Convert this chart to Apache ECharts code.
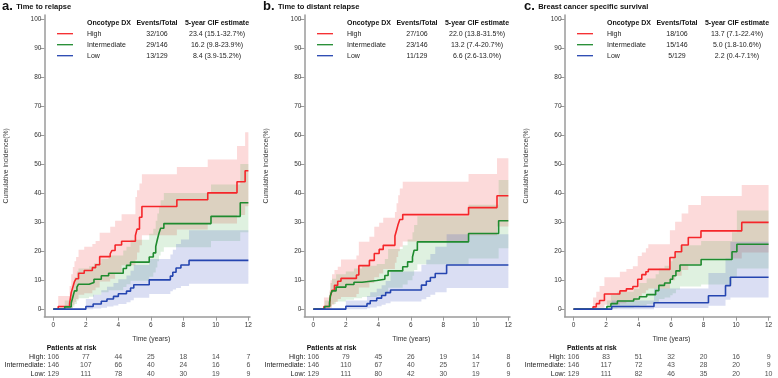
<!DOCTYPE html>
<html><head><meta charset="utf-8">
<script src="https://cdn.jsdelivr.net/npm/echarts@6/dist/echarts.min.js"></script>
<style>html,body{margin:0;padding:0;background:#fff}#c{width:778px;height:378px}</style>
</head><body><div id="c"></div>
<script>
// ---------- axes / labels ----------
const xTicks = [0, 2, 4, 6, 8, 10, 12];
const yTicks = [0, 10, 20, 30, 40, 50, 60, 70, 80, 90, 100];
const groupNames = ['High', 'Intermediate', 'Low'];
const panelLetters = ['a.', 'b.', 'c.'];
const panelTitles = ['Time to relapse', 'Time to distant relapse', 'Breast cancer specific survival'];
const tableHeader = ['Oncotype DX', 'Events/Total', '5-year CIF estimate'];

// ---------- legend tables ----------
const eventsA = ['32/106', '29/146', '13/129'];
const cifA = ['23.4 (15.1-32.7%)', '16.2 (9.8-23.9%)', '8.4 (3.9-15.2%)'];
const eventsB = ['27/106', '23/146', '11/129'];
const cifB = ['22.0 (13.8-31.5%)', '13.2 (7.4-20.7%)', '6.6 (2.6-13.0%)'];
const eventsC = ['18/106', '15/146', '5/129'];
const cifC = ['13.7 (7.1-22.4%)', '5.0 (1.8-10.6%)', '2.2 (0.4-7.1%)'];

// ---------- patients at risk ----------
const riskA_High = [106, 77, 44, 25, 18, 14, 7];
const riskA_Int = [146, 107, 66, 40, 24, 16, 6];
const riskA_Low = [129, 111, 78, 40, 30, 19, 9];
const riskB_High = [106, 79, 45, 26, 19, 14, 8];
const riskB_Int = [146, 110, 67, 40, 25, 17, 6];
const riskB_Low = [129, 111, 80, 42, 30, 19, 9];
const riskC_High = [106, 83, 51, 32, 20, 16, 9];
const riskC_Int = [146, 117, 72, 43, 28, 20, 9];
const riskC_Low = [129, 111, 82, 46, 35, 20, 10];

// ---------- cumulative incidence steps [time, value%] ----------
const relapseHigh = [[0,0],[0.3,0.9],[1.0,2.0],[1.05,3.8],[1.1,5.7],[1.2,7.6],[1.3,9.5],[1.4,10.5],[1.55,12.4],[1.9,13.3],[2.4,14.3],[2.6,15.3],[2.85,18.1],[3.5,19.1],[3.6,20.2],[3.8,22.1],[4.2,23.4],[5.05,25.4],[5.15,27.6],[5.3,31.7],[5.45,35.4],[7.6,37.7],[9.5,40.1],[11.3,43.9],[11.8,47.7],[12,47.7]];
const relapseInt = [[0,0],[0.7,0.8],[1.1,2.1],[1.2,4.2],[1.3,6.3],[1.45,7.6],[1.55,8.6],[2.2,9.2],[2.5,10.3],[2.95,11.5],[3.4,12.4],[4.3,14.0],[4.5,15.1],[4.75,16.2],[5.9,18.0],[6.15,19.4],[6.3,21.6],[6.4,24.0],[6.5,26.2],[6.6,27.9],[6.8,29.5],[9.7,32.0],[11.5,36.7],[12,36.7]];
const relapseLow = [[0,0],[2.0,0.9],[2.45,1.8],[2.95,2.7],[3.3,3.5],[3.7,4.4],[4.0,5.3],[4.5,6.2],[4.75,7.3],[4.95,8.4],[5.9,10.1],[7.2,11.4],[7.35,12.7],[7.55,14.2],[7.85,15.2],[8.35,16.8],[12,16.8]];

const distantHigh = [[0,0],[0.65,0.9],[1.0,2.0],[1.05,4.5],[1.15,6.5],[1.3,8.2],[1.5,9.6],[1.7,10.6],[2.65,11.8],[2.8,15.0],[3.45,16.8],[3.75,19.2],[4.05,20.6],[4.3,22.0],[5.02,25.2],[5.12,27.2],[5.22,29.3],[5.32,30.9],[5.5,32.6],[9.55,35.0],[11.3,39.1],[12,39.1]];
const distantInt = [[0,0],[0.7,0.9],[1.0,2.4],[1.05,4.7],[1.15,6.3],[1.4,7.6],[2.0,8.5],[2.5,9.3],[3.0,9.9],[3.9,10.3],[4.4,11.6],[4.6,13.2],[5.5,14.6],[5.8,16.3],[6.1,18.0],[6.2,20.3],[6.4,23.2],[9.55,26.1],[11.4,30.5],[12,30.5]];
const distantLow = [[0,0],[2.0,1.0],[3.3,1.9],[3.5,2.9],[3.9,3.8],[4.2,4.7],[4.45,5.7],[4.75,6.6],[6.65,8.3],[6.95,9.6],[7.2,10.9],[7.5,12.3],[8.2,15.2],[12,15.2]];

const bcssHigh = [[0,0],[1.2,0.8],[1.4,1.9],[1.6,3.0],[1.9,5.2],[2.85,6.3],[3.25,7.0],[3.65,7.8],[3.95,10.3],[4.2,11.9],[4.45,12.9],[4.6,13.7],[5.93,17.8],[6.25,19.8],[6.65,22.1],[7.06,24.7],[7.84,27.0],[10.35,29.9],[12,29.9]];
const bcssInt = [[0,0],[2.05,0.9],[2.3,1.9],[2.7,2.8],[3.7,3.5],[4.05,4.3],[4.5,5.0],[5.05,6.4],[5.25,8.2],[5.6,9.0],[5.95,10.3],[6.1,11.5],[6.3,13.2],[6.55,15.2],[7.85,17.1],[9.75,19.8],[10.05,22.4],[12,22.4]];
const bcssLow = [[0,0],[2.35,0.9],[4.95,2.2],[8.3,4.6],[9.35,8.1],[9.65,11.0],[12,11.0]];

// ---------- confidence bands [time, lower%, upper%] ----------
const relapseHighCI = [[0.3,0,4.5],[1.0,0,8],[1.1,0.3,12],[1.2,1.5,14.5],[1.3,2.5,16.5],[1.4,3.5,18],[1.55,5,20.5],[1.9,5.5,21.5],[2.4,6.5,22.5],[2.6,7.5,23.5],[2.85,9.5,26.3],[3.5,10.5,28.4],[3.8,12.5,30.5],[4.2,15.1,32.7],[5.05,17,38.7],[5.15,19.5,41],[5.3,22,43.3],[5.45,25.5,46.5],[7.6,27.5,49],[9.5,29.5,51.6],[11.3,32.5,56.2],[11.8,35.5,61]];
const relapseIntCI = [[0.7,0,3],[1.1,0.2,6],[1.2,0.8,9],[1.3,1.8,11],[1.45,3,13],[1.55,3.8,14],[2.2,4.3,14.8],[2.5,5,15.8],[2.95,5.8,17.3],[3.4,6.5,18.5],[4.3,7.6,20.2],[4.5,8.6,21.5],[4.75,9.8,23.9],[5.9,11.2,26],[6.15,12.6,27.7],[6.3,14.4,30.5],[6.4,16.5,33],[6.5,18.5,35.5],[6.6,19.8,37.5],[6.8,21.3,40],[9.7,23.5,43],[11.5,26.5,50]];
const relapseLowCI = [[2.0,0,3.5],[2.45,0.2,5],[2.95,0.5,6.5],[3.3,0.9,7.7],[3.7,1.3,9],[4.0,1.8,10.3],[4.5,2.4,11.6],[4.75,3.1,13.2],[4.95,3.9,15.2],[5.9,5.2,17.3],[7.2,6.2,18.8],[7.35,6.8,20.5],[7.55,7.3,22.5],[7.85,8,24],[8.35,8.8,27.2]];

const distantHighCI = [[0.65,0,4],[1.0,0,6.5],[1.05,0.5,10],[1.15,1.5,12],[1.3,2.5,13.5],[1.5,3.5,14.6],[1.7,4.2,17.1],[2.65,5.2,18.5],[2.8,7.5,23.2],[3.45,9,25],[3.75,11,28.4],[4.05,12.3,29.8],[4.3,13.8,31.5],[5.02,16,33.5],[5.12,18,36.5],[5.22,20,39.3],[5.32,21.5,41.6],[5.5,23.3,43.9],[9.55,25.5,46.6],[11.3,28.5,52]];
const distantIntCI = [[0.7,0,3],[1.0,0.2,6],[1.05,1,9],[1.15,1.8,10.5],[1.4,2.6,12],[2.0,3.2,13],[2.5,3.8,14],[3.0,4.2,15],[3.9,4.5,15.6],[4.4,5.5,17.3],[4.6,7.4,20.7],[5.5,8.5,22],[5.8,10,24],[6.1,11.5,26.5],[6.2,13.5,29],[6.4,15.5,32],[9.55,17.5,36],[11.4,21,44.5]];
const distantLowCI = [[2.0,0,3],[3.3,0.3,4.5],[3.5,0.6,5.8],[3.9,1.0,7],[4.2,1.5,8.2],[4.45,2.0,9.7],[4.75,2.6,13],[6.65,3.4,15.3],[6.95,4.2,17],[7.2,5.0,19],[7.5,5.8,21.5],[8.2,7.3,25.8]];

const bcssHighCI = [[1.2,0,4],[1.4,0.1,6],[1.6,0.5,8],[1.9,1.5,11],[2.85,2.0,12.9],[3.25,2.5,13.8],[3.65,3.0,14.8],[3.95,4.5,18.3],[4.2,5.5,19.5],[4.45,6.5,21],[4.6,7.1,22.4],[5.93,10,27.2],[6.25,11.5,30.1],[6.65,13.5,33],[7.06,15.5,35.9],[7.84,17.5,39],[10.35,19.5,42.8]];
const bcssIntCI = [[2.05,0,3],[2.3,0.2,5],[2.7,0.5,6],[3.7,0.8,7],[4.05,1.3,9],[4.5,1.8,10.6],[5.05,2.5,12],[5.25,3.5,14],[5.6,4,15],[5.95,4.8,16.5],[6.1,5.5,18],[6.3,6.8,20],[6.55,7.8,22],[7.85,8.5,23.5],[9.75,11,26.5],[10.05,14,34]];
const bcssLowCI = [[2.35,0,3],[4.95,0.4,7.1],[8.3,1.2,12.5],[9.35,3.2,17.5],[9.65,4.0,23.2]];

// ---------- assemble ----------
const lineColors = ['#f5262a', '#1f8b2f', '#2545b0'];
const bandColors = ['rgba(240,60,60,0.19)', 'rgba(40,160,50,0.15)', 'rgba(60,80,190,0.19)'];
const FONT = 'Liberation Sans, Arial, sans-serif';

const panels = [
  { est: [relapseHigh, relapseInt, relapseLow], ci: [relapseHighCI, relapseIntCI, relapseLowCI], events: eventsA, cif: cifA, risk: [riskA_High, riskA_Int, riskA_Low] },
  { est: [distantHigh, distantInt, distantLow], ci: [distantHighCI, distantIntCI, distantLowCI], events: eventsB, cif: cifB, risk: [riskB_High, riskB_Int, riskB_Low] },
  { est: [bcssHigh, bcssInt, bcssLow], ci: [bcssHighCI, bcssIntCI, bcssLowCI], events: eventsC, cif: cifC, risk: [riskC_High, riskC_Int, riskC_Low] }
];

const plotLeft = [44.4, 304.4, 564.6];
const plotWidth = 205.6;
const tableDx = [0, 260, 520];
const titleX = [2, 263, 524];
const X_MIN = -0.55, X_MAX = 12.1, Y_MIN = -2.6, Y_MAX = 101.4;
const T_END = xTicks[xTicks.length - 1];

const grid = [], xAxis = [], yAxis = [], series = [], graphic = [];
const axisGray = '#9a9a9a';

panels.forEach((p, i) => {
  const pi = 2 * i, ri = 2 * i + 1;
  grid.push({ left: plotLeft[i], top: 15, width: plotWidth, height: 301.7 });
  xAxis.push({
    type: 'value', gridIndex: pi, min: X_MIN, max: X_MAX,
    axisLine: { show: true, onZero: false, lineStyle: { color: axisGray, width: 1.5 } },
    axisTick: { show: true, customValues: xTicks, length: 4, lineStyle: { color: axisGray, width: 1 } },
    axisLabel: { customValues: xTicks, fontSize: 6.5, color: '#333', margin: 5, fontFamily: FONT },
    splitLine: { show: false },
    name: 'Time (years)', nameLocation: 'middle', nameGap: 19,
    nameTextStyle: { fontSize: 6.8, color: '#333', fontFamily: FONT, padding: [0, 0, 0, 8] }
  });
  yAxis.push({
    type: 'value', gridIndex: pi, min: Y_MIN, max: Y_MAX,
    axisLine: { show: true, onZero: false, lineStyle: { color: axisGray, width: 1.5 } },
    axisTick: { show: true, customValues: yTicks, length: 4, lineStyle: { color: axisGray, width: 1 } },
    axisLabel: { customValues: yTicks, fontSize: 6.5, color: '#333', margin: 3, fontFamily: FONT },
    splitLine: { show: false },
    name: 'Cumulative incidence(%)', nameLocation: 'middle', nameGap: 35, nameRotate: 90,
    nameTextStyle: { fontSize: 6.8, color: '#333', fontFamily: FONT }
  });

  // bands
  p.ci.forEach((ci, g) => {
    series.push({
      type: 'custom', xAxisIndex: pi, yAxisIndex: pi, z: 1, silent: true, data: [[0, 0]],
      renderItem: (params, api) => {
        const up = [], lo = [];
        for (let k = 0; k < ci.length; k++) {
          const t0 = ci[k][0], t1 = k + 1 < ci.length ? ci[k + 1][0] : T_END;
          up.push(api.coord([t0, ci[k][2]]), api.coord([t1, ci[k][2]]));
          lo.push(api.coord([t0, ci[k][1]]), api.coord([t1, ci[k][1]]));
        }
        return { type: 'polygon', shape: { points: up.concat(lo.reverse()) }, style: { fill: bandColors[g] } };
      }
    });
  });
  // lines
  p.est.forEach((d, g) => {
    series.push({
      type: 'line', xAxisIndex: pi, yAxisIndex: pi, z: 3, step: 'end', data: d,
      showSymbol: false, silent: true, animation: false,
      lineStyle: { color: lineColors[g], width: 1.6 }
    });
  });

  // risk table grid
  grid.push({ left: plotLeft[i], top: 352.3, width: plotWidth, height: 28.2 });
  xAxis.push({ type: 'value', gridIndex: ri, min: X_MIN, max: X_MAX, show: false });
  yAxis.push({
    type: 'category', gridIndex: ri, data: groupNames, inverse: true,
    axisLine: { show: false }, axisTick: { show: false }, splitLine: { show: false },
    axisLabel: { interval: 0, formatter: '{value}:', fontSize: 7, color: '#222', margin: -1, fontFamily: FONT }
  });
  groupNames.forEach((gname, g) => {
    series.push({
      type: 'scatter', xAxisIndex: ri, yAxisIndex: ri, symbol: 'circle', symbolSize: 2, silent: true,
      itemStyle: { color: 'rgba(255,255,255,0)' },
      data: xTicks.map((t, k) => [t, gname, p.risk[g][k]]),
      label: { show: true, position: 'inside', formatter: q => String(q.value[2]), fontSize: 7, color: '#222', fontFamily: FONT }
    });
  });

  // title
  graphic.push({
    type: 'text', left: titleX[i], top: 0,
    style: {
      text: '{l|' + panelLetters[i] + '} {t|' + panelTitles[i] + '}',
      rich: {
        l: { fontSize: 13, fontWeight: 'bold', fontFamily: FONT, fill: '#111' },
        t: { fontSize: 7.5, fontWeight: 'bold', fontFamily: FONT, fill: '#111' }
      }
    }
  });
  // legend table
  const dx = tableDx[i];
  const hdrY = 23.3, rowY = [33.7, 44.7, 55.7];
  graphic.push({ type: 'text', x: 87 + dx, y: hdrY, style: { text: tableHeader[0], fontSize: 7, fontWeight: 'bold', fontFamily: FONT, fill: '#111', verticalAlign: 'middle', align: 'left' } });
  graphic.push({ type: 'text', x: 157 + dx, y: hdrY, style: { text: tableHeader[1], fontSize: 7, fontWeight: 'bold', fontFamily: FONT, fill: '#111', verticalAlign: 'middle', align: 'center' } });
  graphic.push({ type: 'text', x: 217 + dx, y: hdrY, style: { text: tableHeader[2], fontSize: 7, fontWeight: 'bold', fontFamily: FONT, fill: '#111', verticalAlign: 'middle', align: 'center' } });
  groupNames.forEach((gname, g) => {
    graphic.push({ type: 'line', shape: { x1: 57 + dx, y1: rowY[g], x2: 73 + dx, y2: rowY[g] }, style: { stroke: lineColors[g], lineWidth: 1.3 } });
    graphic.push({ type: 'text', x: 87 + dx, y: rowY[g], style: { text: gname, fontSize: 7, fontFamily: FONT, fill: '#222', verticalAlign: 'middle', align: 'left' } });
    graphic.push({ type: 'text', x: 157 + dx, y: rowY[g], style: { text: p.events[g], fontSize: 7, fontFamily: FONT, fill: '#222', verticalAlign: 'middle', align: 'center' } });
    graphic.push({ type: 'text', x: 217 + dx, y: rowY[g], style: { text: p.cif[g], fontSize: 7, fontFamily: FONT, fill: '#222', verticalAlign: 'middle', align: 'center' } });
  });
  // patients at risk header
  graphic.push({ type: 'text', x: plotLeft[i] + 2.3, y: 348.5, style: { text: 'Patients at risk', fontSize: 7, fontWeight: 'bold', fontFamily: FONT, fill: '#111', verticalAlign: 'middle', align: 'left' } });
});

const chart = echarts.init(document.getElementById('c'), null, { renderer: 'canvas', width: 778, height: 378 });
chart.setOption({
  animation: false,
  backgroundColor: '#ffffff',
  textStyle: { fontFamily: FONT },
  grid, xAxis, yAxis, series, graphic
});
</script>
</body></html>
